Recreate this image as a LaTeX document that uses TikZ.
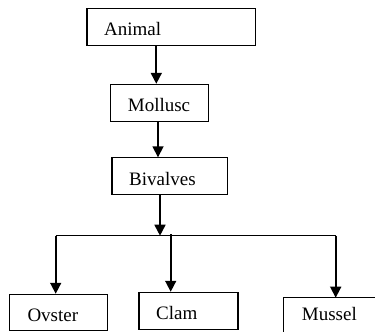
\documentclass[tikz,border=0pt]{standalone}
\usepackage{fontspec}
\setmainfont{Liberation Serif}
\usetikzlibrary{arrows.meta}
\begin{document}
\begin{tikzpicture}[x=1pt,y=-1pt,
  box/.style={draw=black,line width=1.1pt,minimum width=#1,inner sep=0pt,minimum height=36.7pt,anchor=center},
  lbl/.style={anchor=base west,inner sep=0pt,font=\fontsize{19}{21}\selectfont},
  arr/.style={line width=1.7pt,-{Triangle[length=11pt,width=11pt]}},
  bus/.style={line width=1.3pt}]
\useasboundingbox (0,0) rectangle (375,332);
\fill[white] (0,0) rectangle (375,332);
% boxes
\node[box=168.7pt] (animal) at (171.3,26.7) {};
\node[box=97.6pt] (mollusc) at (159.5,102.7) {};
\node[box=115.7pt] (bivalves) at (169.8,176.2) {};
\node[box=98pt,minimum height=36pt] (oyster) at (58.3,312.3) {};
\node[box=99pt,minimum height=37pt] (clam) at (188.5,310.8) {};
\coordinate (mussel) at (283.3,297.7);
\draw[line width=1.1pt] (283.3,332) -- (mussel) -- (375,297.7);
% labels
\node[lbl] (tanimal) at (104,35) {Animal};
\node[lbl] (tmollusc) at (127.7,111) {Mollusc};
\node[lbl] (tbivalves) at (129,185) {Bivalves};
\node[lbl] (toyster) at (27.3,321.7) {Ovster};
\node[lbl] (tclam) at (156,319) {Clam};
\node[lbl] (tmussel) at (301.7,320) {Mussel};
% connector points
\coordinate (a1) at (156.3,45);
\coordinate (m1) at (158,121);
\coordinate (b1) at (160,194.7);
\coordinate (busL) at (55.7,235.7);
\coordinate (busR) at (336.2,235.7);
\coordinate (c1) at (170.7,234);
\coordinate (o1) at (55.7,235.7);
\coordinate (u1) at (335.7,235.7);
% connectors
\draw[arr] (a1) -- (a1 |- mollusc.north);
\draw[arr] (m1) -- (m1 |- bivalves.north);
\draw[arr] (b1) -- (160,235.7);
\draw[bus] (busL) -- (busR);
\draw[arr] (c1) -- (c1 |- clam.north);
\draw[arr] (o1) -- (o1 |- oyster.north);
\draw[arr] (u1) -- (u1 |- mussel);
\end{tikzpicture}
\end{document}
